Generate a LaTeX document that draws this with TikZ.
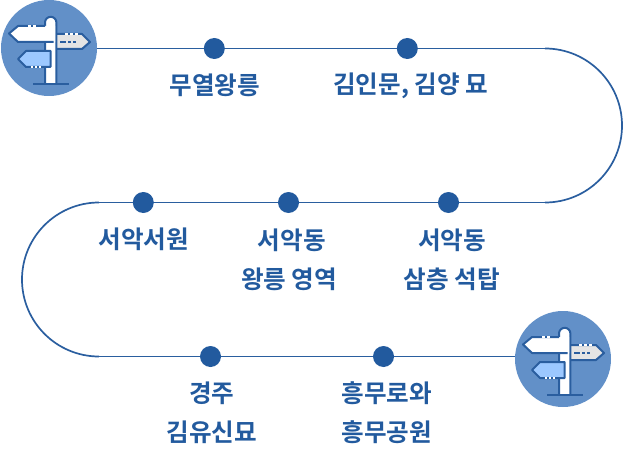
\documentclass[tikz,border=0pt]{standalone}
\usepackage{fontspec}
\newfontfamily\krfont{Noto Sans CJK KR Bold}
\definecolor{navy}{HTML}{225A9E}
\definecolor{disc}{HTML}{6290C8}
\definecolor{signblue}{HTML}{9CC8FF}
\definecolor{signgray}{HTML}{E4E4E4}
\definecolor{edgeblue}{HTML}{2A5E9F}
\tikzset{
 stopdot/.style={circle,fill=navy,draw=none,minimum size=21pt,inner sep=0pt},
 disc/.style={circle,fill=disc,draw=none,minimum size=96pt,inner sep=0pt},
 lbl/.style={text=navy,font=\krfont\fontsize{24.6pt}{38.7pt}\selectfont,align=center,inner sep=0pt},
 route/.style={draw=edgeblue,line width=1.7pt},
 signline/.style={draw=edgeblue,line width=2pt,line join=round},
 signpost/.pic={
  \path[signline,fill=signgray] (6,-14) -- (33,-14) -- (41,-6) -- (33,1) -- (6,1) -- cycle;
  \draw[white,line width=1.4pt,dash pattern=on 3pt off 2pt on 3pt off 2pt on 3pt off 30pt] (16,-14) -- (30,-14);
  \draw[edgeblue,line width=1.4pt,dash pattern=on 6pt off 2pt on 3pt off 2pt on 3pt off 30pt] (11,-6) -- (31,-6);
  \path[signline,fill=white] (-4,36) -- (-4,-25.5) arc[start angle=180,end angle=360,radius=5.7] -- (7.4,36);
  \path[signline,fill=signblue] (-31,11) -- (-23,3) -- (1.5,3) -- (1.5,19) -- (-23,19) -- cycle;
  \draw[white,line width=1.4pt,dash pattern=on 2pt off 2pt] (-18,19) -- (-8,19);
  \fill[white] (-40,-14.5) -- (-31,-22) -- (6,-22) -- (6,-6) -- (-31,-6) -- cycle;
  \draw[signline] (-4,-22) -- (-31,-22) -- (-40,-14.5) -- (-31,-6) -- (4.5,-6);
  \draw[white,line width=1.4pt,dash pattern=on 3pt off 2pt on 3pt off 30pt] (-21,-22) -- (-11,-22);
  \draw[signline] (-16,36) -- (20,36);
 }
}
\begin{document}
\begin{tikzpicture}[x=1pt,y=-1pt]
\useasboundingbox (0,0) rectangle (631,473);
\coordinate (ra) at (545,48.5);
\coordinate (rb) at (545,202.5);
\coordinate (la) at (99,202.5);
\coordinate (lb) at (99,356.5);
\node[disc] (start) at (49,48) {};
\node[disc] (finish) at (563,359) {};
\node[stopdot] (s1) at (214.3,48.5) {};
\node[stopdot] (s2) at (407.3,48.5) {};
\node[stopdot] (s3) at (448.5,202.5) {};
\node[stopdot] (s4) at (288.5,202.5) {};
\node[stopdot] (s5) at (143.3,202.5) {};
\node[stopdot] (s6) at (210.5,356.5) {};
\node[stopdot] (s7) at (383.5,356.5) {};
\coordinate (fin) at (finish.west |- s7);
\draw[route] (start.east |- s1) -- (s1) -- (s2) -- (ra);
\draw[route] (ra) .. controls (587.5,48.5) and (622,83) .. (622,125.5) .. controls (622,168) and (587.5,202.5) .. (rb);
\draw[route] (rb) -- (s3) -- (s4) -- (s5) -- (la);
\draw[route] (la) .. controls (56.5,202.5) and (22,237) .. (22,279.5) .. controls (22,322) and (56.5,356.5) .. (lb);
\draw[route] (lb) -- (s6) -- (s7) -- (fin);
\pic at (49,48) {signpost};
\pic at (563,359) {signpost};
\node[lbl] (t1) at (214.8,85.5) {무열왕릉};
\node[lbl] (t2) at (410.8,85.5) {김인문, 김양 묘};
\node[lbl] (t3) at (143.8,239.5) {서악서원};
\node[lbl] (t4) at (289.2,259.5) {\hspace{5pt}서악동\\왕릉 영역};
\node[lbl] (t5) at (452,259.5) {서악동\\삼층 석탑};
\node[lbl] (t6) at (211.8,413) {경주\\김유신묘};
\node[lbl] (t7) at (386.8,413) {흥무로와\\흥무공원};
\end{tikzpicture}
\end{document}
